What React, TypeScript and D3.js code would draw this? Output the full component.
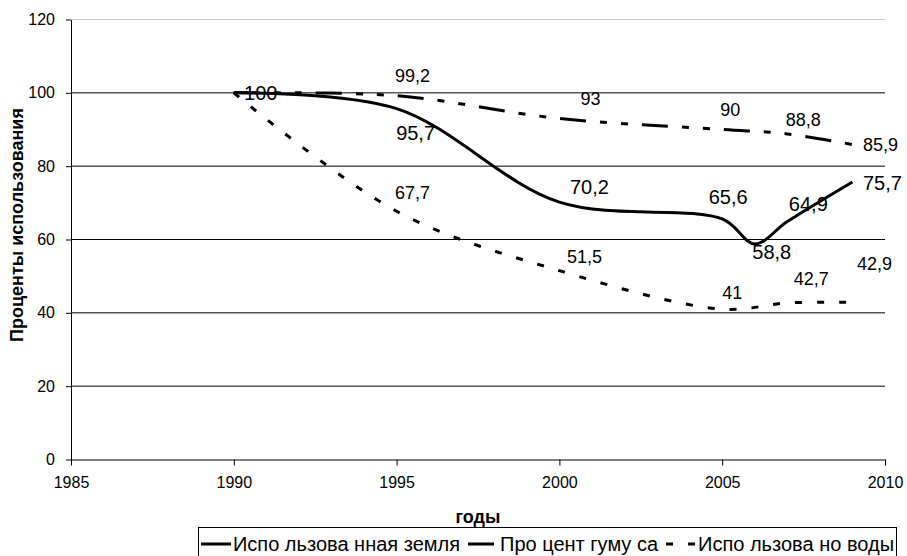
import React, { useEffect, useRef } from "react";
import * as d3 from "d3";

const WIDTH = 907;
const HEIGHT = 556;
const FONT = "'Liberation Sans', Arial, sans-serif";

// data
const landYears = [1990, 1995, 2000, 2005, 2006, 2007, 2009];
const landValues = [100, 95.7, 70.2, 65.6, 58.8, 64.9, 75.7];
const humusYears = [1990, 1995, 2000, 2005, 2007, 2009];
const humusValues = [100, 99.2, 93, 90, 88.8, 85.9];
const waterYears = [1990, 1995, 2000, 2005, 2007, 2009];
const waterValues = [100, 67.7, 51.5, 41, 42.7, 42.9];
const seriesNames = ["Испо льзова нная земля", "Про цент гуму са", "Испо льзова но воды"];
const xTicks = [1985, 1990, 1995, 2000, 2005, 2010];
const yTicks = [0, 20, 40, 60, 80, 100, 120];

// where each value label sits relative to its point (null = no label)
const landLabelShift = [[27, 0], [19, 24], [30, -15], [6, -22], [17, 8], [21, -18], [30, 1]];
const humusLabelShift = [null, [16, -20], [31, -20], [8, -20], [16, -14], [28, 0]];
const waterLabelShift = [null, [16, -18], [25, -14], [10, -16], [24, -24], [22, -38]];

const fmt = (v: number) => String(v).replace(".", ",");

export default function App() {
  const svgRef = useRef<SVGSVGElement>(null);

  useEffect(() => {
    const svg = d3.select(svgRef.current);
    svg.selectAll("*").remove();

    const X = d3.scaleLinear().domain([1985, 2010]).range([71, 885]);
    const Y = d3.scaleLinear().domain([0, 120]).range([459.5, 19.5]);

    // grid
    svg
      .append("g")
      .selectAll("line")
      .data(yTicks.filter((t) => t > 0))
      .join("line")
      .attr("x1", X(1985))
      .attr("x2", X(2010))
      .attr("y1", (d) => Y(d))
      .attr("y2", (d) => Y(d))
      .attr("stroke", (d) => (d === 120 ? "#c8c8c8" : "#000"))
      .attr("stroke-width", 1);

    // axes
    const yAxis = d3.axisLeft(Y).tickValues(yTicks).tickSize(5).tickPadding(11).tickSizeOuter(0);
    const gy = svg.append("g").attr("transform", `translate(${X(1985)},0)`).call(yAxis);
    const xAxis = d3
      .axisBottom(X)
      .tickValues(xTicks)
      .tickFormat(d3.format("d"))
      .tickSize(6)
      .tickPadding(11)
      .tickSizeOuter(0);
    const gx = svg.append("g").attr("transform", `translate(0,${Y(0)})`).call(xAxis);
    [gx, gy].forEach((g) => {
      g.selectAll("path").attr("stroke", "#000");
      g.selectAll("line").attr("stroke", "#000");
      g.selectAll("text").attr("font-family", FONT).attr("font-size", 16).attr("fill", "#000");
    });

    const series = [
      { years: landYears, values: landValues, shift: landLabelShift, dash: null, size: 20 },
      { years: humusYears, values: humusValues, shift: humusLabelShift, dash: "26,14,7,14,7,14", size: 18 },
      { years: waterYears, values: waterValues, shift: waterLabelShift, dash: "7,15", size: 18 },
    ];

    const line = d3
      .line<[number, number]>()
      .x((d) => X(d[0]))
      .y((d) => Y(d[1]))
      .curve(d3.curveCatmullRom.alpha(0.5));

    series
      .slice()
      .reverse()
      .forEach((s) => {
        svg
          .append("path")
          .attr("d", line(s.years.map((yr, i) => [yr, s.values[i]])))
          .attr("fill", "none")
          .attr("stroke", "#000")
          .attr("stroke-width", 3)
          .attr("stroke-dasharray", s.dash);
      });

    series.forEach((s) => {
      s.years.forEach((yr, i) => {
        const sh = s.shift[i];
        if (!sh) return;
        svg
          .append("text")
          .attr("x", X(yr) + sh[0])
          .attr("y", Y(s.values[i]) + sh[1])
          .attr("text-anchor", "middle")
          .attr("dominant-baseline", "central")
          .attr("font-family", FONT)
          .attr("font-size", s.size)
          .text(fmt(s.values[i]));
      });
    });

    // axis titles
    svg
      .append("text")
      .attr("transform", "translate(23,225) rotate(-90)")
      .attr("text-anchor", "middle")
      .attr("font-family", FONT)
      .attr("font-weight", "bold")
      .attr("font-size", 18)
      .text("Проценты использования");
    svg
      .append("text")
      .attr("x", (X(1985) + X(2010)) / 2)
      .attr("y", 523)
      .attr("text-anchor", "middle")
      .attr("font-family", FONT)
      .attr("font-weight", "bold")
      .attr("font-size", 18)
      .text("годы");

    // legend
    const boxL = 198.5;
    const boxR = 896.5;
    const legend = svg.append("g");
    legend
      .append("rect")
      .attr("x", boxL)
      .attr("y", 527.5)
      .attr("width", boxR - boxL)
      .attr("height", 40)
      .attr("fill", "#fff")
      .attr("stroke", "#000");
    const items = series.map((s, i) => {
      const g = legend.append("g");
      g.append("line")
        .attr("x1", 0)
        .attr("x2", 30)
        .attr("y1", 544)
        .attr("y2", 544)
        .attr("stroke", "#000")
        .attr("stroke-width", 3)
        .attr("stroke-dasharray", s.dash);
      const t = g
        .append("text")
        .attr("x", 32)
        .attr("y", 551)
        .attr("font-family", FONT)
        .attr("font-size", 20)
        .text(seriesNames[i]);
      const w = 32 + (t.node() as SVGTextElement).getComputedTextLength();
      return { g, w };
    });
    const gap = 8;
    const total = d3.sum(items, (d) => d.w) + gap * (items.length - 1);
    let cx = boxL + (boxR - boxL - total) / 2;
    items.forEach((it) => {
      it.g.attr("transform", `translate(${cx},0)`);
      cx += it.w + gap;
    });
  }, []);

  return (
    <div style={{ position: "absolute", left: 0, top: 0, background: "#fff" }}>
      <svg ref={svgRef} width={WIDTH} height={HEIGHT} style={{ display: "block" }} />
    </div>
  );
}
